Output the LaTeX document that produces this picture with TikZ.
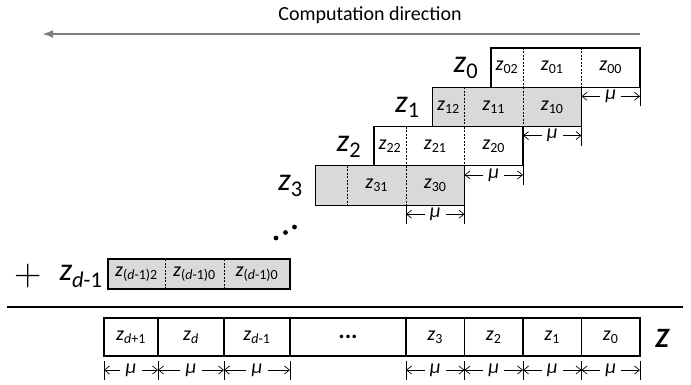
\documentclass[tikz,border=0pt]{standalone}
\usepackage{fontspec}
\setmainfont{Carlito}
\newfontfamily\lmfont{Latin Modern Roman}
\usepackage{tikz}
\usetikzlibrary{arrows.meta}

\newcommand{\zs}[1]{\textit{z}\textsubscript{#1}}
\newcommand{\dd}{\textit{d}}

\begin{document}
\begin{tikzpicture}[x=1pt,y=-1pt,
    cell/.style={inner sep=0pt, outer sep=0pt, minimum height=39.3, font=\fontsize{20}{24}\selectfont},
    sep/.style={line width=0.7pt, dash pattern=on 2pt off 1.5pt},
    box/.style={line width=1.2pt},
    tick/.style={line width=0.8pt},
    dim/.style={line width=0.7pt, -{Straight Barb[length=5pt,width=8pt]}},
    mu/.style={inner xsep=5pt, inner ysep=1pt, font=\fontsize{20}{24}\selectfont\itshape},
    rowlabel/.style={font=\fontsize{32}{36}\selectfont},
    dot/.style={circle, fill, inner sep=1.7pt}]
    \useasboundingbox (0,0) rectangle (691,385);
    \def\rowh{39.3}
    \def\shift{58.5}

    % computation direction
    \node[font=\fontsize{20}{24}\selectfont] (title) at (370,15) {Computation direction};
    \coordinate (dirA) at (640,34);
    \coordinate (dirB) at (42,34);
    \draw[gray, line width=2pt, -{Latex[length=11pt,width=8pt]}] (dirA) -- (dirB);

    % staircase of partial products
    \foreach \k/\fc/\la/\lb/\lc in {0/white/{\zs{02}}/{\zs{01}}/{\zs{00}},
                                   1/gray!30/{\zs{12}}/{\zs{11}}/{\zs{10}},
                                   2/white/{\zs{22}}/{\zs{21}}/{\zs{20}},
                                   3/gray!30/{}/{\zs{31}}/{\zs{30}}} {
      \pgfmathsetmacro\R{640-\shift*\k}
      \pgfmathsetmacro\T{48+\rowh*\k}
      \node[cell, fill=\fc, minimum width=32, anchor=north west] (r\k a) at (\R-149,\T) {\la};
      \node[cell, fill=\fc, minimum width=58.5, anchor=west] (r\k b) at (r\k a.east) {\lb};
      \node[cell, fill=\fc, minimum width=58.5, anchor=west] (r\k c) at (r\k b.east) {\lc};
      \draw[box] (r\k a.north west) rectangle (r\k c.south east);
      \draw[sep] (r\k a.north east) -- (r\k a.south east);
      \draw[sep] (r\k b.north east) -- (r\k b.south east);
      \node[rowlabel] (lab\k) at (466-\shift*\k,68+\rowh*\k) {\zs{\k}};
      % width mark under each row
      \coordinate (t\k) at (\R,\T+\rowh+19);
      \draw[tick] (r\k c.south east) -- (t\k);
      \node[mu] (m\k) at (\R-\shift/2,\T+\rowh+9) {μ};
      \coordinate (ml\k) at (\R-\shift,\T+\rowh+9);
      \coordinate (mr\k) at (\R,\T+\rowh+9);
      \draw[dim] (m\k.west) -- (ml\k);
      \draw[dim] (m\k.east) -- (mr\k);
    }
    \coordinate (t3l) at (406,224.2);
    \draw[tick] (r3b.south east) -- (t3l);

    \node[dot] (dot1) at (276,238) {};
    \node[dot] (dot2) at (285.5,232.5) {};
    \node[dot] (dot3) at (294.5,227) {};

    % last row
    \node[font=\lmfont\fontsize{38}{40}\selectfont] (plus) at (28,276) {+};
    \node[rowlabel] (labd) at (81,276) {\zs{\dd-1}};
    \node[cell, fill=gray!30, minimum height=30, minimum width=57, anchor=north west] (rda) at (108,259) {\zs{(\dd-1)2}};
    \node[cell, fill=gray!30, minimum height=30, minimum width=59, anchor=west] (rdb) at (rda.east) {\zs{(\dd-1)0}};
    \node[cell, fill=gray!30, minimum height=30, minimum width=66, anchor=west] (rdc) at (rdb.east) {\zs{(\dd-1)0}};
    \draw[box] (rda.north west) rectangle (rdc.south east);
    \draw[sep] (rda.north east) -- (rda.south east);
    \draw[sep] (rdb.north east) -- (rdb.south east);

    % sum line
    \coordinate (sumA) at (7,307);
    \coordinate (sumB) at (683,307);
    \draw[line width=1.3pt] (sumA) -- (sumB);

    % result Z
    \foreach \i/\xa/\xb/\lab in {1/104/158/{\zs{\dd+1}}, 2/158/224/{\zs{\dd}}, 3/224/290/{\zs{\dd-1}},
                                 4/290/406/{\fontsize{24}{24}\selectfont\textbf{...}}, 5/406/464.5/{\zs{3}}, 6/464.5/523/{\zs{2}},
                                 7/523/581.5/{\zs{1}}, 8/581.5/640/{\zs{0}}} {
      \pgfmathsetmacro\w{\xb-\xa}
      \node[cell, draw, line width=1.2pt, minimum height=38, minimum width=\w, anchor=west] (bot\i) at (\xa,337) {\lab};
    }
    \node[font=\fontsize{28}{30}\selectfont\bfseries\itshape] (zlab) at (662,338) {Z};

    \foreach \x in {104,158,224,290,406,464.5,523,581.5,640} {\draw[tick] (\x,361) -- (\x,380);}
    \foreach \i/\xa/\xb in {1/104/158, 2/158/224, 3/224/290, 5/406/464.5, 6/464.5/523, 7/523/581.5, 8/581.5/640} {
      \coordinate (bl\i) at (\xa,370);
      \coordinate (br\i) at (\xb,370);
      \node[mu] (bm\i) at ({(\xa+\xb)/2},370) {μ};
      \draw[dim] (bm\i.west) -- (bl\i);
      \draw[dim] (bm\i.east) -- (br\i);
    }
\end{tikzpicture}
\end{document}
